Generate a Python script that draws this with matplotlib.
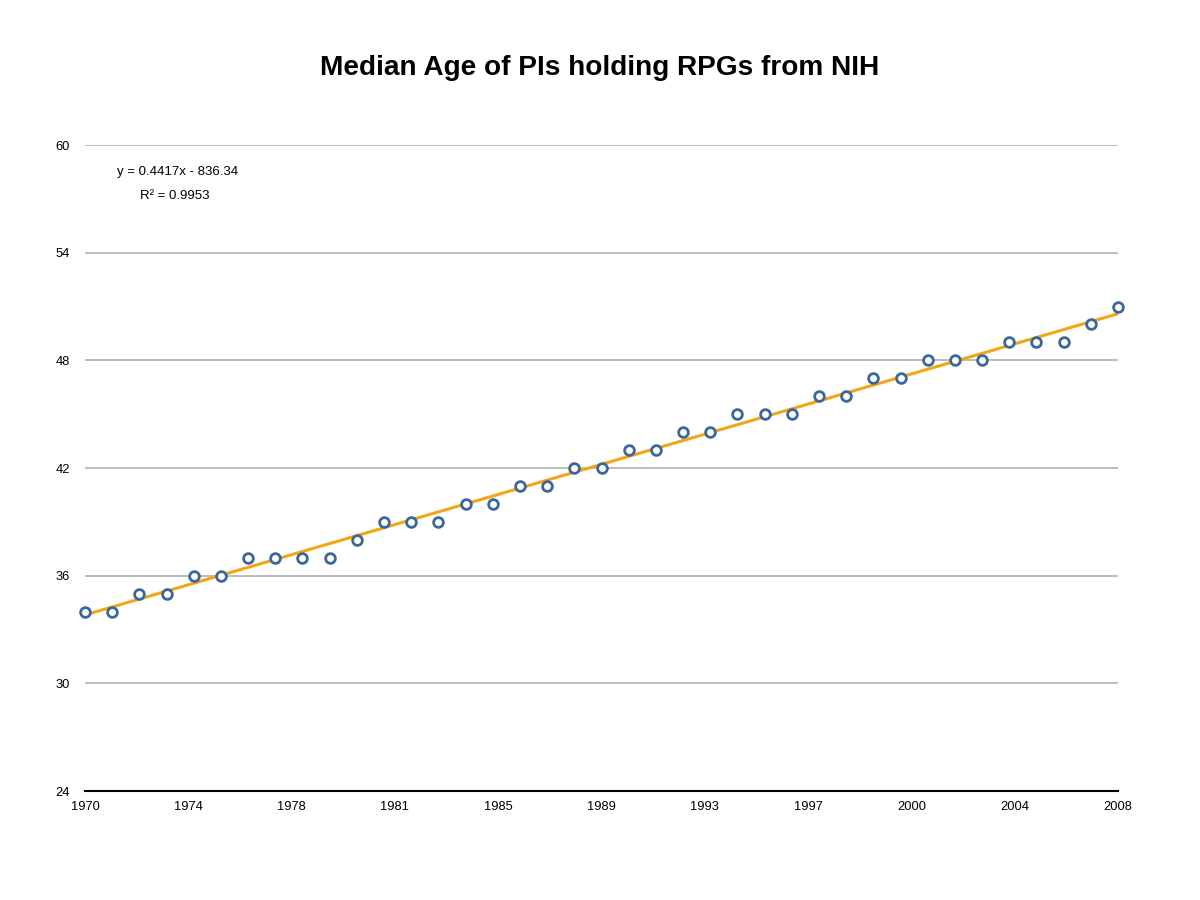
import matplotlib as mpl
mpl.use('Agg')
import matplotlib.pyplot as plt
import numpy as np

plt.rcParams['font.family'] = ['Liberation Sans', 'DejaVu Sans']

years = np.arange(1970, 2009)
median_age = [34, 34, 35, 35, 36, 36, 37, 37, 37, 37,
              38, 39, 39, 39, 40, 40, 41, 41, 42, 42,
              43, 43, 44, 44, 45, 45, 45, 46, 46, 47,
              47, 48, 48, 48, 49, 49, 49, 50, 51]
y_ticks = [24, 30, 36, 42, 48, 54, 60]
x_tick_labels = ['1970', '1974', '1978', '1981', '1985', '1989',
                 '1993', '1997', '2000', '2004', '2008']
title = 'Median Age of PIs holding RPGs from NIH'
trend_text = 'y = 0.4417x - 836.34'
r2_text = 'R² = 0.9953'

fig = plt.figure(figsize=(12, 9), dpi=100, facecolor='white')
ax = fig.add_axes([85/1200, 1 - 791/900, (1118-85)/1200, (791-145)/900])

# grid lines
for t in y_ticks[1:]:
    ax.axhline(t, color='#b0b0b0', linewidth=1.2, zorder=1)

# trend line (linear fit)
slope, intercept = np.polyfit(years, median_age, 1)
ax.plot(years, slope * years + intercept, color='#f2a516', linewidth=2.2, zorder=2)

ax.plot(years, median_age, linestyle='none', marker='o', markersize=7,
        markerfacecolor='white', markeredgecolor='#3b679b', markeredgewidth=2,
        zorder=3, clip_on=False)

ax.set_xlim(1970, 2008)
ax.set_ylim(24, 60)
ax.set_yticks(y_ticks)
ax.set_yticklabels([str(t) for t in y_ticks])
xt = np.linspace(1970, 2008, len(x_tick_labels))
ax.set_xticks(xt)
ax.set_xticklabels(x_tick_labels)
ax.tick_params(axis='both', length=0, labelsize=9.3)
ax.tick_params(axis='y', pad=11)
ax.tick_params(axis='x', pad=7)

for side in ['top', 'right', 'left']:
    ax.spines[side].set_visible(False)
ax.spines['bottom'].set_color('black')
ax.spines['bottom'].set_linewidth(1.5)

fig.text(178/1200, 1 - 172/900, trend_text, ha='center', va='center', fontsize=9.5)
fig.text(175/1200, 1 - 196/900, r2_text, ha='center', va='center', fontsize=9.5)

fig.text(0.5, 1 - 68/900, title, ha='center', va='center', fontsize=20.2, fontweight='bold')

fig.savefig('out.png', dpi=100)
